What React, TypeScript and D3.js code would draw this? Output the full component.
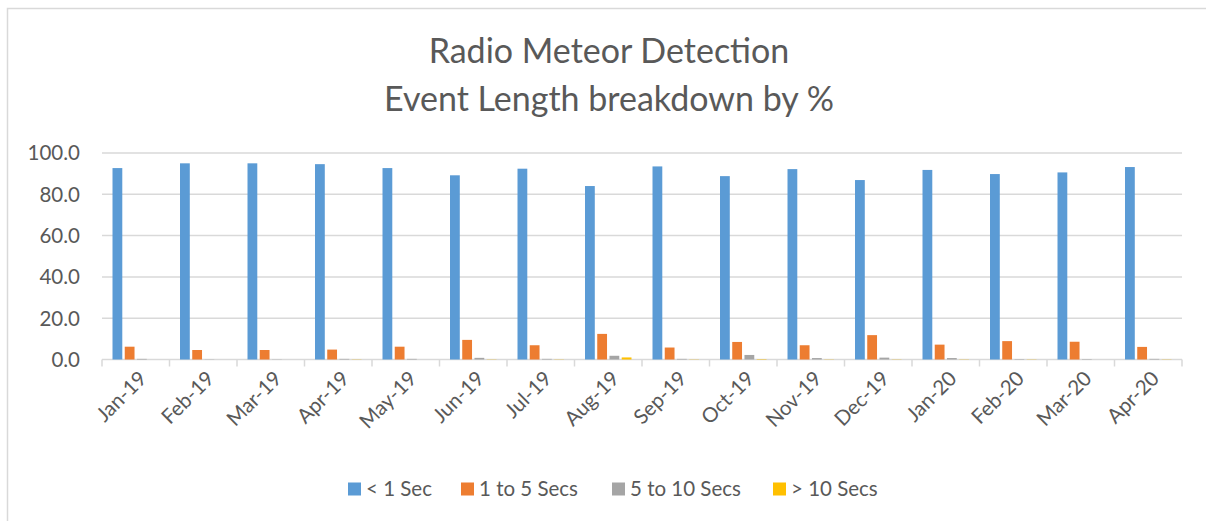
import React, { useEffect, useRef } from 'react';
import * as d3 from 'd3';

const months = ['Jan-19', 'Feb-19', 'Mar-19', 'Apr-19', 'May-19', 'Jun-19', 'Jul-19', 'Aug-19',
    'Sep-19', 'Oct-19', 'Nov-19', 'Dec-19', 'Jan-20', 'Feb-20', 'Mar-20', 'Apr-20'];

const seriesNames = ['< 1 Sec', '1 to 5 Secs', '5 to 10 Secs', '> 10 Secs'];
const seriesColors = ['#5B9BD5', '#ED7D31', '#A5A5A5', '#FFC000'];

const underOneSec = [92.7, 95.0, 95.0, 94.6, 92.7, 89.2, 92.4, 84.0, 93.5, 88.8, 92.2, 86.9, 91.8, 89.8, 90.6, 93.2];
const oneToFive = [6.2, 4.6, 4.6, 4.8, 6.2, 9.5, 6.9, 12.4, 5.8, 8.5, 6.9, 11.8, 7.2, 8.9, 8.6, 6.1];
const fiveToTen = [0.3, 0.1, 0.1, 0.3, 0.3, 0.8, 0.3, 1.8, 0.3, 2.2, 0.7, 0.9, 0.7, 0.2, 0.2, 0.3];
const overTen = [0.0, 0.0, 0.0, 0.1, 0.0, 0.1, 0.1, 1.0, 0.1, 0.2, 0.1, 0.1, 0.1, 0.1, 0.0, 0.1];

const yTicks = [0, 20, 40, 60, 80, 100];

const W = 1206;
const H = 521;
const FONT = 'Lato, "Open Sans", sans-serif';
const TEXT = '#595959';
const GRID = '#D9D9D9';

export default function App() {
    const svgRef = useRef<SVGSVGElement>(null);

    useEffect(() => {
        const svg = d3.select(svgRef.current);
        svg.selectAll('*').remove();

        const values = [underOneSec, oneToFive, fiveToTen, overTen];
        const margin = { left: 102, right: W - 1182, top: 153, bottom: H - 359.5 };

        // chart frame (right and bottom edges fall outside the picture)
        svg.append('rect')
            .attr('x', 7.5).attr('y', 8.5)
            .attr('width', W + 20).attr('height', H + 20)
            .attr('fill', '#fff')
            .attr('stroke', GRID)
            .attr('stroke-width', 1.5);

        // title
        const title = svg.append('text')
            .attr('text-anchor', 'middle')
            .attr('fill', TEXT)
            .style('font-family', FONT)
            .style('font-size', '34px');
        title.append('tspan').attr('x', 609).attr('y', 63).text('Radio Meteor Detection');
        title.append('tspan').attr('x', 609).attr('y', 111).text('Event Length breakdown by %');

        const x = d3.scaleBand<string>()
            .domain(months)
            .range([margin.left, W - margin.right])
            .paddingInner(0)
            .paddingOuter(0);

        const y = d3.scaleLinear()
            .domain([0, 100])
            .range([H - margin.bottom, margin.top]);

        const groupW = x.bandwidth() * 0.725;
        const x1 = d3.scaleBand<number>()
            .domain(d3.range(seriesNames.length))
            .range([(x.bandwidth() - groupW) / 2, (x.bandwidth() + groupW) / 2])
            .paddingInner(0.2)
            .paddingOuter(0.1);

        // gridlines + y labels
        const yAxis = svg.append('g');
        yTicks.forEach(t => {
            yAxis.append('line')
                .attr('x1', margin.left).attr('x2', W - margin.right)
                .attr('y1', y(t)).attr('y2', y(t))
                .attr('stroke', GRID)
                .attr('stroke-width', 1.5);
            yAxis.append('text')
                .attr('x', 80)
                .attr('y', y(t))
                .attr('dy', '0.36em')
                .attr('text-anchor', 'end')
                .attr('fill', TEXT)
                .style('font-family', FONT)
                .style('font-size', '20.5px')
                .text(t.toFixed(1));
        });

        // bars
        values.forEach((vals, s) => {
            svg.append('g')
                .selectAll('rect')
                .data(vals)
                .enter().append('rect')
                .attr('x', (d, i) => (x(months[i]) as number) + (x1(s) as number))
                .attr('y', d => y(d))
                .attr('width', x1.bandwidth())
                .attr('height', d => y(0) - y(d))
                .attr('fill', seriesColors[s]);
        });

        // category ticks
        const ticks = svg.append('g');
        months.concat(['end']).forEach((m, i) => {
            const xx = i < months.length ? (x(m) as number) : W - margin.right;
            ticks.append('line')
                .attr('x1', xx).attr('x2', xx)
                .attr('y1', y(0)).attr('y2', y(0) + 7)
                .attr('stroke', GRID)
                .attr('stroke-width', 1.5);
        });

        // category labels
        svg.append('g')
            .selectAll('text')
            .data(months)
            .enter().append('text')
            .attr('transform', d => `translate(${(x(d) as number) + x.bandwidth() / 2 + 7}, ${y(0) + 15}) rotate(-45)`)
            .attr('text-anchor', 'end')
            .attr('dy', '0.36em')
            .attr('fill', TEXT)
            .style('font-family', FONT)
            .style('font-size', '20.5px')
            .text(d => d);

        // legend
        const legendX = [348, 461, 612, 773];
        const legend = svg.append('g');
        seriesNames.forEach((name, i) => {
            legend.append('rect')
                .attr('x', legendX[i]).attr('y', 482.5)
                .attr('width', 13).attr('height', 13)
                .attr('fill', seriesColors[i]);
            legend.append('text')
                .attr('x', legendX[i] + 18)
                .attr('y', 489)
                .attr('dy', '0.36em')
                .attr('fill', TEXT)
                .style('font-family', FONT)
                .style('font-size', '20.5px')
                .text(name);
        });
    }, []);

    return (
        <div style={{ position: 'absolute', left: 0, top: 0 }}>
            <svg ref={svgRef} width={W} height={H} style={{ display: 'block' }} />
        </div>
    );
}
